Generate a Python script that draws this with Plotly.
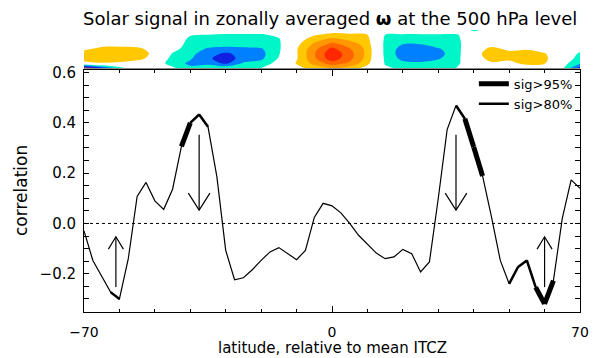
import plotly.graph_objects as go

# ---------------- data ----------------
lat = [-70 + 2.5 * i for i in range(57)]
corr = [-0.03, -0.147, -0.21, -0.273, -0.30, -0.14, 0.107, 0.163, 0.09, 0.056,
        0.136, 0.306, 0.40, 0.433, 0.384, 0.186, -0.107, -0.224, -0.216, -0.184,
        -0.147, -0.113, -0.096, -0.12, -0.144, -0.107, 0.024, 0.08,
        0.07, 0.042, 0.0, -0.047, -0.083, -0.118, -0.14, -0.133, -0.103, -0.12,
        -0.193, -0.153, 0.10, 0.373, 0.469, 0.416, 0.304, 0.189, 0.027, -0.147,
        -0.24, -0.173, -0.147, -0.254, -0.32, -0.227, 0.02, 0.173, 0.14]

# segments (start latitude of each 2.5-degree segment) by significance
sig95_start = [-42.5, 37.5, 40, 57.5, 60]
sig80_start = [-62.5, -40, -37.5, 35, 50, 52.5, 55]

# arrows: latitude, tail value, tip value
arrow_lat = [-61, -37.5, 35, 60]
arrow_from = [-0.253, 0.353, 0.353, -0.253]
arrow_to = [-0.053, 0.053, 0.053, -0.053]

# zonally averaged omega strip (columns: latitude, rows bottom->top)
strip_lat = [-70 + 5 * i for i in range(29)]
strip_lev = [0, 0.125, 0.25, 0.375, 0.5, 0.625, 0.75, 0.875, 1.0]
strip_cols = [
    [-6.0, 0.6, 1.6, 1.5, 0.8, 0.2, 0, 0, 0],
    [-3.5, 0.9, 1.7, 1.7, 1.3, 0.6, 0.2, 0, 0],
    [-1.5, 0.8, 1.6, 1.8, 1.4, 0.6, 0.1, 0, 0],
    [0.0, 0.5, 1.3, 1.6, 1.3, 0.5, 0, 0, 0],
    [-0.5, -0.3, 0.6, 0.7, 0.5, 0.1, 0, 0, 0],
    [-0.8, -1.5, -1.5, -1.1, -0.6, -0.2, 0, 0, 0],
    [-1.8, -2.2, -1.9, -1.7, -1.6, -1.5, -1.3, -0.9, -0.3],
    [-1.0, -2.4, -2.8, -2.6, -2.1, -1.7, -1.4, -1.0, -0.4],
    [-1.3, -3.2, -3.6, -3.2, -2.2, -1.8, -1.5, -1.1, -0.4],
    [-1.2, -1.9, -2.5, -2.6, -2.2, -1.7, -1.4, -1.1, -0.4],
    [-1.0, -1.6, -2.2, -2.3, -2.1, -1.6, -1.4, -1.1, -0.4],
    [-0.3, -0.6, -0.9, -1.1, -1.2, -1.2, -1.1, -0.8, -0.2],
    [0.6, 1.1, 0.9, 0.9, 0.9, 0.7, 0.4, 0.1, 0],
    [1.5, 2.3, 2.8, 2.9, 2.7, 2.2, 1.6, 0.9, 0.2],
    [2.0, 3.5, 4.6, 4.8, 4.3, 3.3, 2.3, 1.3, 0.4],
    [1.6, 2.8, 3.3, 3.4, 3.1, 2.6, 1.8, 1.2, 0.3],
    [0.6, 1.3, 1.6, 1.7, 1.7, 1.5, 1.3, 1.0, 0.2],
    [-0.8, -1.1, -1.2, -1.3, -1.3, -1.3, -1.2, -1.0, -0.3],
    [-1.2, -1.7, -2.3, -2.5, -2.4, -2.0, -1.5, -1.1, -0.3],
    [-1.2, -1.8, -2.5, -2.7, -2.5, -2.0, -1.5, -1.1, -0.3],
    [-1.1, -1.6, -2.1, -2.3, -2.1, -1.6, -1.4, -1.1, -0.3],
    [-1.0, -1.3, -1.4, -1.5, -1.5, -1.4, -1.3, -1.1, -0.3],
    [-0.5, 0.0, 0.2, 0.4, 0.3, 0.0, -0.1, -0.4, -1.2],
    [-0.4, 0.8, 1.5, 1.7, 1.3, 0.6, 0.2, -0.2, -0.6],
    [-0.3, 0.7, 1.2, 1.3, 0.8, 0.3, 0, 0, 0],
    [0.3, 1.3, 1.7, 1.6, 0.9, 0.3, 0, 0, 0],
    [-0.2, 1.1, 1.3, 1.1, 0.5, 0.1, 0, 0, 0],
    [-0.8, -0.6, -0.3, 0, 0, 0, 0, 0, 0],
    [-3.5, -1.8, -1.4, -1.2, -0.7, -0.2, 0, 0, 0],
]

FONT = "DejaVu Sans"

# ---------------- helpers ----------------
def segments(starts):
    xs, ys = [], []
    for s in starts:
        i = lat.index(s)
        xs += [lat[i], lat[i + 1], None]
        ys += [corr[i], corr[i + 1], None]
    return xs, ys

fig = go.Figure()

# strip contour
z = [list(r) for r in zip(*strip_cols)]
fig.add_trace(go.Contour(
    x=strip_lat, y=strip_lev, z=z, xaxis="x2", yaxis="y2",
    autocontour=False,
    contours=dict(start=-4, end=4, size=1, coloring="fill", showlines=False),
    line=dict(width=0, smoothing=1.0),
    colorscale=[
        [0 / 9, "#5a2ca0"], [1 / 9, "#1020e0"], [2 / 9, "#0080ff"],
        [3 / 9, "#00f5c8"], [4 / 9, "#ffffff"], [5 / 9, "#ffffff"],
        [6 / 9, "#ffc800"], [7 / 9, "#ff9800"], [8 / 9, "#ff6400"],
        [9 / 9, "#ff2800"]],
    showscale=False, hoverinfo="skip", showlegend=False))

# main curve
fig.add_trace(go.Scatter(x=lat, y=corr, mode="lines",
                         line=dict(color="black", width=1.2),
                         showlegend=False))
x95, y95 = segments(sig95_start)
x80, y80 = segments(sig80_start)
fig.add_trace(go.Scatter(x=x95, y=y95, mode="lines", name="sig>95%",
                         line=dict(color="black", width=5)))
fig.add_trace(go.Scatter(x=x80, y=y80, mode="lines", name="sig>80%",
                         line=dict(color="black", width=2.5)))

# arrows
px_per_deg = 496 / 140.0
px_per_unit = 242 / 0.962
for la, a0, a1 in zip(arrow_lat, arrow_from, arrow_to):
    up = a1 > a0
    hw = (7.5 if up else 10.8) / px_per_deg
    hl = (12.3 if up else 17.0) / px_per_unit
    d = 1 if up else -1
    xs = [la, la, None, la - hw, la, la + hw]
    ys = [a0, a1, None, a1 - d * hl, a1, a1 - d * hl]
    fig.add_trace(go.Scatter(x=xs, y=ys, mode="lines",
                             line=dict(color="black", width=1.2),
                             showlegend=False, hoverinfo="skip"))

# zero line
fig.add_shape(type="line", xref="x", yref="y", x0=-70, x1=70, y0=0, y1=0,
              line=dict(color="black", width=1, dash="dot"))

fig.update_layout(
    width=596, height=358, autosize=False,
    margin=dict(l=84, r=16, t=30, b=46, autoexpand=False),
    paper_bgcolor="white", plot_bgcolor="white",
    font=dict(family=FONT, size=15, color="black"),
    xaxis=dict(range=[-70, 70], tickvals=[-70, 0, 70], ticks="inside",
               ticklen=6, tickcolor="black", showline=True, linecolor="black",
               linewidth=1, mirror="ticks", showgrid=False, zeroline=False,
               ticklabelstandoff=7, automargin=False,
               tickfont=dict(family=FONT, size=14),
               minor=dict(ticks="inside", dtick=10, tick0=0, ticklen=3,
                          tickcolor="black", showgrid=False),
               anchor="y", domain=[0, 1]),
    yaxis=dict(range=[-0.352, 0.61], dtick=0.2, tick0=0, tickformat=".1f",
               ticks="inside", ticklen=5, tickcolor="black", showline=True,
               linecolor="black", linewidth=1, mirror="ticks", showgrid=False,
               zeroline=False, ticklabelstandoff=4, automargin=False,
               tickfont=dict(family=FONT, size=15),
               minor=dict(ticks="inside", dtick=0.05, tick0=0, ticklen=5,
                          tickcolor="black", showgrid=False),
               domain=[0, 0.8582], anchor="x"),
    xaxis2=dict(range=[-70, 70], anchor="y2", domain=[0, 1], showline=True,
                linecolor="#888888", linewidth=1, ticks="", showticklabels=False,
                showgrid=False, zeroline=False, automargin=False),
    yaxis2=dict(range=[0, 1], domain=[0.865, 1.0], anchor="x2", visible=False),
    legend=dict(x=0.786, y=0.862, xanchor="left", yanchor="top",
                bgcolor="rgba(0,0,0,0)", borderwidth=0,
                font=dict(family=FONT, size=13), tracegroupgap=0),
    annotations=[
        dict(text="Solar signal in zonally averaged <b>ω</b> at the 500 hPa level",
             xref="paper", yref="paper", x=0.496, y=1.0, xanchor="center",
             yanchor="bottom", yshift=-1, showarrow=False,
             font=dict(family=FONT, size=18)),
        dict(text="latitude, relative to mean ITCZ", xref="paper", yref="paper",
             x=0.5, y=0, xanchor="center", yanchor="bottom", yshift=-46,
             showarrow=False, borderpad=0, font=dict(family=FONT, size=15)),
        dict(text="correlation", xref="paper", yref="paper", x=0, y=0.4291,
             xanchor="center", yanchor="middle", xshift=-63, textangle=-90,
             showarrow=False, font=dict(family=FONT, size=17)),
    ],
)

fig.write_html("out.html",
               config={"displayModeBar": False, "responsive": False},
               post_script="document.body.style.margin='0';"
                           "document.body.style.padding='0';"
                           "document.body.style.overflow='hidden';")
